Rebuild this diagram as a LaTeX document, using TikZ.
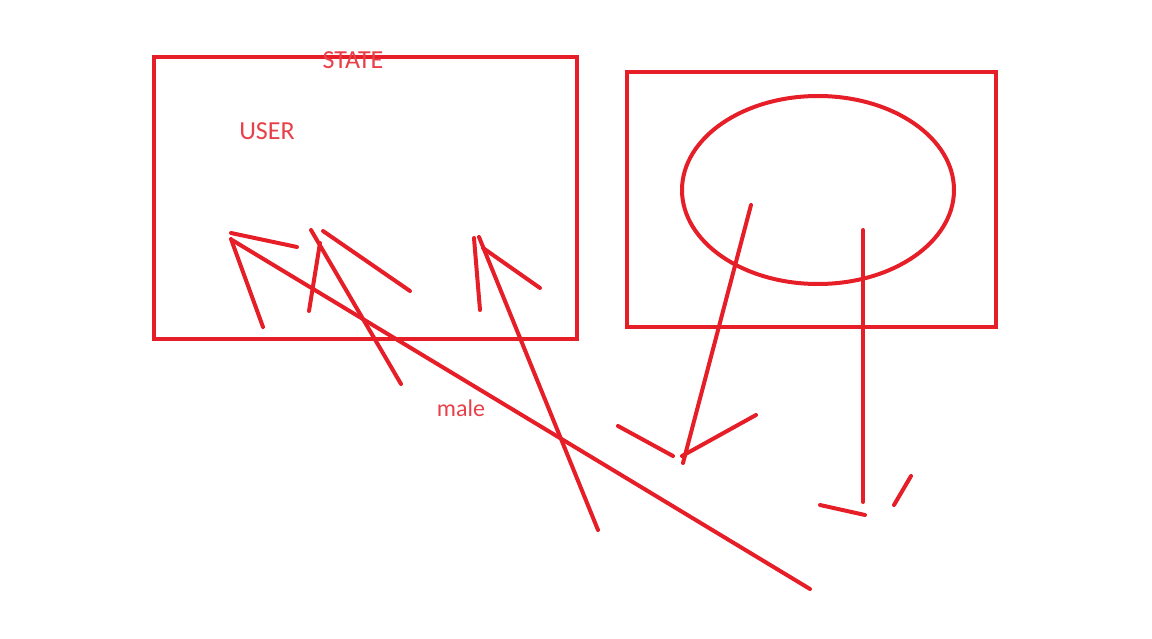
\documentclass[tikz,border=0pt]{standalone}
\usepackage{fontspec}
\setmainfont{Carlito}
\definecolor{pen}{RGB}{229,30,40}
\definecolor{ink}{RGB}{232,64,72}
\begin{document}
\begin{tikzpicture}[x=1pt,y=-1pt,
  stroke/.style={draw=pen,line width=4pt,line cap=round},
  label/.style={text=ink,inner sep=0pt,font=\fontsize{26}{28}\selectfont}]
\useasboundingbox (0,0) rectangle (1152,639);
% boxes
\draw[stroke,line cap=butt] (154,57) rectangle (577,339);
\draw[stroke,line cap=butt] (627,72) rectangle (996,327);
\draw[stroke] (818,190) ellipse [x radius=136, y radius=94];
% labels
\node[label] (state) at (353,60) {STATE};
\node[label] (user) at (267,131) {USER};
\node[label,font=\fontsize{24}{26}\selectfont] (male) at (461,408) {male};
% left strokes
\draw[stroke] (231,233) -- (297,247);
\draw[stroke] (231,239) -- (263,327);
\draw[stroke] (232,240) -- (810,589);
\draw[stroke] (311,230) -- (401,384);
\draw[stroke] (320,243) -- (309,311);
\draw[stroke] (323,231) -- (410,291);
\draw[stroke] (474,238) -- (480,310);
\draw[stroke] (479,237) -- (598,530);
\draw[stroke] (483,248) -- (540,288);
% right strokes
\draw[stroke] (751,205) -- (683,463);
\draw[stroke] (682,456) -- (756,415);
\draw[stroke] (618,426) -- (673,456);
\draw[stroke] (863,230) -- (863,502);
\draw[stroke] (820,505) -- (865,515);
\draw[stroke] (894,505) -- (911,476);
\end{tikzpicture}
\end{document}
